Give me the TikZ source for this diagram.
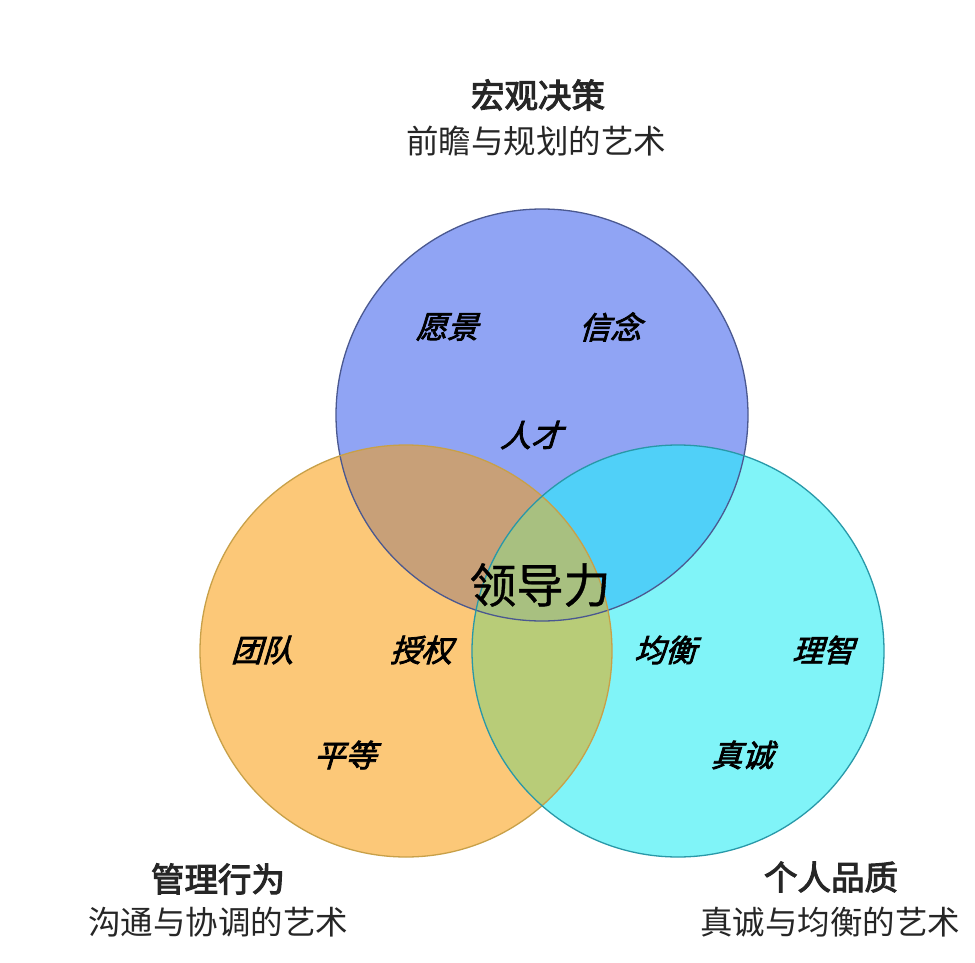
\documentclass[tikz,border=0pt]{standalone}
\usepackage{fontspec}
\newfontfamily\cjk{Noto Sans CJK SC}
\newfontfamily\cjkb[FakeBold=3]{Noto Sans CJK SC}
\newfontfamily\cjkit[FakeSlant=0.3,FakeBold=2.5]{Noto Sans CJK SC}
\newfontfamily\cjkc[FakeBold=0.8]{Noto Sans CJK SC}
\definecolor{topfill}{HTML}{90A4F4}
\definecolor{leftfill}{HTML}{FCC878}
\definecolor{rightfill}{HTML}{80F4F8}
\definecolor{tlfill}{HTML}{C8A078}
\definecolor{trfill}{HTML}{50D0F8}
\definecolor{lrfill}{HTML}{B8CC78}
\definecolor{allfill}{HTML}{A8C080}
\definecolor{topline}{HTML}{4A5890}
\definecolor{leftline}{HTML}{C8A048}
\definecolor{rightline}{HTML}{2898A8}
\begin{document}
\begin{tikzpicture}[x=1pt,y=-1pt,
  title/.style={inner sep=0pt,font={\cjkb\fontsize{33.5}{38}\selectfont},text=black!85},
  sub/.style={inner sep=0pt,font={\cjk\fontsize{32.5}{38}\selectfont},text=black!85},
  word/.style={inner sep=0pt,font={\cjkit\fontsize{31}{36}\selectfont},text=black},
  core/.style={inner sep=0pt,font={\cjkc\fontsize{47}{54}\selectfont},text=black}]
\path[use as bounding box,fill=white] (0,0) rectangle (975,963);
\coordinate (T) at (542,415);
\coordinate (L) at (406,651);
\coordinate (R) at (678,651);
\def\rad{206pt}
% base fills
\fill[topfill] (T) circle[radius=\rad];
\fill[leftfill] (L) circle[radius=\rad];
\fill[rightfill] (R) circle[radius=\rad];
% pairwise overlaps
\begin{scope}\clip (T) circle[radius=\rad];\fill[tlfill] (L) circle[radius=\rad];\end{scope}
\begin{scope}\clip (T) circle[radius=\rad];\fill[trfill] (R) circle[radius=\rad];\end{scope}
\begin{scope}\clip (L) circle[radius=\rad];\fill[lrfill] (R) circle[radius=\rad];\end{scope}
\begin{scope}\clip (T) circle[radius=\rad];\clip (L) circle[radius=\rad];\fill[allfill] (R) circle[radius=\rad];\end{scope}
% outlines
\draw[topline,line width=1.3pt] (T) circle[radius=\rad];
\draw[leftline,line width=1.3pt] (L) circle[radius=\rad];
\draw[rightline,line width=1.3pt] (R) circle[radius=\rad];
% headings
\node[title] (ttop) at (538,95) {宏观决策};
\node[sub] (stop) at (536,141) {前瞻与规划的艺术};
\node[title] (tleft) at (218,879) {管理行为};
\node[sub] (sleft) at (218,922) {沟通与协调的艺术};
\node[title] (tright) at (831,877) {个人品质};
\node[sub] (sright) at (830,922) {真诚与均衡的艺术};
% words
\node[word] (w1) at (447,327) {愿景};
\node[word] (w2) at (610,327) {信念};
\node[word] (w3) at (531,435) {人才};
\node[word] (w4) at (262,650) {团队};
\node[word] (w5) at (421,650) {授权};
\node[word] (w6) at (345,755) {平等};
\node[word] (w7) at (665,650) {均衡};
\node[word] (w8) at (823,650) {理智};
\node[word] (w9) at (742,755) {真诚};
\node[core] (c) at (540,585) {领导力};
\end{tikzpicture}
\end{document}
